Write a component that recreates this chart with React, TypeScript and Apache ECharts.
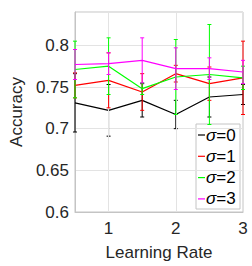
import React, { useEffect, useRef } from "react";
import * as echarts from "echarts";

const xValues = [0.5, 1, 1.5, 2, 2.5, 3];
const xTicks = [1, 2, 3];
const sigmaNames = ["0", "1", "2", "3"];
const colors = ["#000000", "#ff0000", "#00ff00", "#ff00ff"];
const meanS0 = [0.731, 0.722, 0.734, 0.717, 0.738, 0.741];
const errS0 = [0.035, 0.031, 0.02, 0.017, 0.024, 0.012];
const meanS1 = [0.752, 0.758, 0.744, 0.766, 0.754, 0.761];
const errS1 = [0.015, 0.033, 0.022, 0.01, 0.02, 0.044];
const meanS2 = [0.771, 0.775, 0.748, 0.762, 0.765, 0.761];
const errS2 = [0.034, 0.034, 0.007, 0.045, 0.06, 0.014];
const meanS3 = [0.777, 0.778, 0.782, 0.772, 0.772, 0.768];
const errS3 = [0.018, 0.013, 0.027, 0.025, 0.013, 0.014];

const means = [meanS0, meanS1, meanS2, meanS3];
const errs = [errS0, errS1, errS2, errS3];

const FONT = "Liberation Sans, Arial, sans-serif";
const TEXT = "#262626";
const GRID = "#e3e3e3";
const FRAME = "#c4c4c4";

export default function App() {
  const ref = useRef<HTMLDivElement>(null);
  useEffect(() => {
    if (!ref.current) return;
    const chart = echarts.init(ref.current, undefined, { renderer: "svg" });
    const series: any[] = [];
    series.push({
      type: "line",
      data: [[xTicks[0], 0.7]],
      symbol: "none",
      lineStyle: { opacity: 0 },
      z: 1,
      silent: true,
      markLine: {
        silent: true,
        symbol: "none",
        label: { show: false },
        lineStyle: { color: GRID, type: "solid", width: 1 },
        data: xTicks.slice(0, -1).map((t) => ({ xAxis: t })),
      },
    });
    means.forEach((m, i) => {
      const color = colors[i];
      series.push({
        type: "custom",
        z: 3 + i * 2,
        data: xValues.map((x, j) => [x, m[j], errs[i][j]]),
        renderItem: (params: any, api: any) => {
          const x = api.value(0);
          const y = api.value(1);
          const e = api.value(2);
          const top = api.coord([x, y + e]);
          const bot = api.coord([x, y - e]);
          const hw = 2;
          const st = { stroke: color, lineWidth: 1 };
          return {
            type: "group",
            children: [
              { type: "line", shape: { x1: top[0], y1: top[1], x2: bot[0], y2: bot[1] }, style: st },
              { type: "line", shape: { x1: top[0] - hw, y1: top[1], x2: top[0] + hw, y2: top[1] }, style: st },
              { type: "line", shape: { x1: bot[0] - hw, y1: bot[1], x2: bot[0] + hw, y2: bot[1] }, style: st },
            ],
          };
        },
      });
      series.push({
        type: "line",
        z: 4 + i * 2,
        data: xValues.map((x, j) => [x, m[j]]),
        symbol: "none",
        lineStyle: { color, width: 1.2 },
        itemStyle: { color },
      });
    });

    const legX = 196;
    const legY = 124;
    const legW = 44;
    const legH = 85;
    const rowH = 21.3;
    const legendChildren: any[] = [
      {
        type: "rect",
        shape: { x: legX, y: legY, width: legW, height: legH },
        style: { fill: "#ffffff", stroke: FRAME, lineWidth: 1 },
      },
    ];
    sigmaNames.forEach((n, i) => {
      const cy = legY + 11 + i * rowH;
      legendChildren.push({
        type: "line",
        shape: { x1: legX + 2, y1: cy, x2: legX + 9, y2: cy },
        style: { stroke: colors[i], lineWidth: 1.2 },
      });
      legendChildren.push({
        type: "text",
        x: legX + 10,
        y: cy,
        style: {
          text: `{i|σ}=${n}`,
          fill: "#000",
          font: `17px ${FONT}`,
          verticalAlign: "middle",
          align: "left",
          rich: {
            i: { fontStyle: "italic", fontSize: 17, fontFamily: FONT, fill: "#000" },
          },
        },
      });
    });

    chart.setOption({
      animation: false,
      grid: {
        left: 60,
        right: 9,
        top: 12,
        bottom: 54,
        show: true,
        borderColor: FRAME,
        borderWidth: 1,
      },
      xAxis: {
        type: "value",
        min: 0.5,
        max: 3,
        interval: 0.5,
        name: "Learning Rate",
        nameLocation: "middle",
        nameGap: 32,
        nameTextStyle: { fontSize: 17, fontFamily: FONT, color: TEXT },
        axisLine: { show: true, lineStyle: { color: FRAME } },
        axisTick: { show: false },
        splitLine: { show: false },
        axisLabel: {
          fontSize: 17,
          fontFamily: FONT,
          color: TEXT,
          margin: 8,
          formatter: (v: number) => (xTicks.includes(v) ? String(v) : ""),
        },
      },
      yAxis: {
        type: "value",
        min: 0.6,
        max: 0.84,
        interval: 0.05,
        name: "Accuracy",
        nameLocation: "middle",
        nameGap: 42,
        nameTextStyle: { fontSize: 17, fontFamily: FONT, color: TEXT },
        axisLine: { show: true, lineStyle: { color: FRAME } },
        axisTick: { show: false },
        splitLine: { show: true, lineStyle: { color: GRID, width: 1 } },
        axisLabel: {
          fontSize: 17,
          fontFamily: FONT,
          color: TEXT,
          margin: 6,
          showMaxLabel: false,
          formatter: (v: number) => String(Math.round(v * 100) / 100),
        },
      },
      graphic: [{ type: "group", z: 100, children: legendChildren }],
      series,
    });
    return () => chart.dispose();
  }, []);
  return (
    <div
      ref={ref}
      style={{ position: "absolute", left: 0, top: 0, width: 252, height: 266 }}
    />
  );
}
